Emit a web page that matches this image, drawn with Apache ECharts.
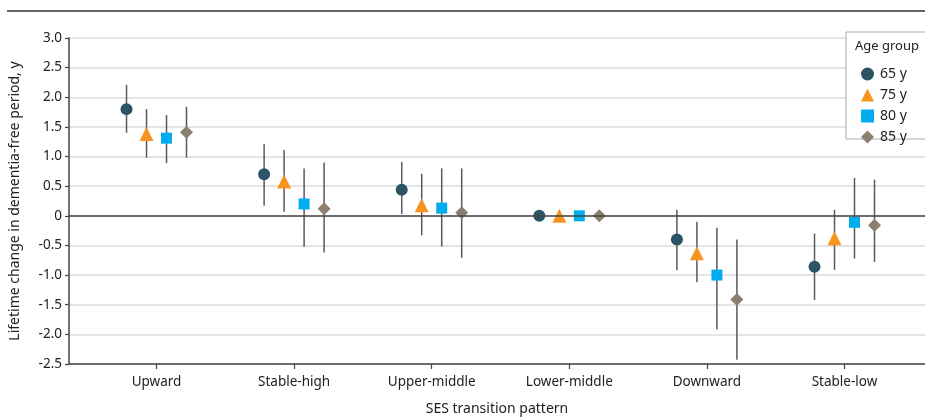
<!DOCTYPE html>
<html>
<head>
<meta charset="utf-8">
<script src="https://cdn.jsdelivr.net/npm/echarts@6/dist/echarts.min.js"></script>
<style>
html,body{margin:0;padding:0;background:#fff;}
#chart{width:925px;height:417px;}
</style>
</head>
<body>
<div id="chart"></div>
<script>
// ---- data ----
const categories = ['Upward','Stable-high','Upper-middle','Lower-middle','Downward','Stable-low'];
const ageGroups = ['65 y','75 y','80 y','85 y'];
const yTicks = [-2.5,-2.0,-1.5,-1.0,-0.5,0,0.5,1.0,1.5,2.0,2.5,3.0];

const age65   = [1.80, 0.70, 0.44, 0, -0.40, -0.86];
const age65Lo = [1.40, 0.17, 0.03, null, -0.92, -1.42];
const age65Hi = [2.21, 1.21, 0.91, null, 0.10, -0.30];

const age75   = [1.38, 0.58, 0.18, 0, -0.63, -0.38];
const age75Lo = [0.98, 0.07, -0.33, null, -1.12, -0.91];
const age75Hi = [1.80, 1.11, 0.71, null, -0.10, 0.10];

const age80   = [1.31, 0.20, 0.13, 0, -1.00, -0.11];
const age80Lo = [0.89, -0.52, -0.52, null, -1.92, -0.72];
const age80Hi = [1.70, 0.80, 0.80, null, -0.20, 0.64];

const age85   = [1.41, 0.12, 0.05, 0, -1.41, -0.16];
const age85Lo = [0.98, -0.62, -0.71, null, -2.43, -0.78];
const age85Hi = [1.84, 0.90, 0.80, null, -0.40, 0.61];

// ---- styling ----
const FONT = 'Noto Sans';
const colors = ['#2b5566', '#f7941d', '#00aeef', '#8b7f70'];
const symbols = ['circle', 'triangle', 'rect', 'diamond'];
const symbolSizes = [12, 14, 11, 13];
const groupOffset = 0.1453;   // spacing of age groups within a category (category units)
const xMin = -0.636, xMax = 5.585;

const values = [age65, age75, age80, age85];
const los = [age65Lo, age75Lo, age80Lo, age85Lo];
const his = [age65Hi, age75Hi, age80Hi, age85Hi];

const series = [];
values.forEach((vals, k) => {
  const off = (k - 1.5) * groupOffset;
  // error bars
  series.push({
    type: 'custom',
    silent: true,
    z: 1,
    data: vals.map((v, i) => [i + off, los[k][i], his[k][i]]).filter(d => d[1] !== null),
    renderItem: function (params, api) {
      const p1 = api.coord([api.value(0), api.value(1)]);
      const p2 = api.coord([api.value(0), api.value(2)]);
      return {
        type: 'line',
        shape: {x1: p1[0], y1: p1[1], x2: p2[0], y2: p2[1]},
        style: {stroke: '#5a5a5a', lineWidth: 1.5}
      };
    }
  });
  series.push({
    name: ageGroups[k],
    type: 'scatter',
    z: 3,
    symbol: symbols[k],
    symbolSize: symbolSizes[k],
    itemStyle: {color: colors[k], opacity: 1},
    data: vals.map((v, i) => [i + off, v]),
    markLine: k === 0 ? {
      silent: true,
      symbol: ['none', 'none'],
      label: {show: false},
      lineStyle: {color: '#444', width: 1.5, type: 'solid'},
      data: [{yAxis: 0}]
    } : undefined
  });
});

const chart = echarts.init(document.getElementById('chart'), null, {renderer: 'canvas'});
chart.setOption({
  animation: false,
  backgroundColor: '#fff',
  textStyle: {fontFamily: FONT},
  grid: {left: 69, right: 0, top: 38, bottom: 53, containLabel: false, outerBoundsMode: 'none'},
  xAxis: {
    type: 'value',
    min: xMin,
    max: xMax,
    name: 'SES transition pattern',
    nameLocation: 'middle',
    nameGap: 38,
    nameTextStyle: {fontFamily: FONT, fontSize: 14, color: '#222'},
    axisLine: {show: true, onZero: false, lineStyle: {color: '#444', width: 1.5}},
    axisTick: {show: true, customValues: [0,1,2,3,4,5], length: 5, lineStyle: {color: '#444', width: 1.2}},
    axisLabel: {
      customValues: [0,1,2,3,4,5],
      formatter: v => categories[Math.round(v)],
      fontFamily: FONT, fontSize: 13.5, color: '#222', margin: 11
    },
    splitLine: {show: false}
  },
  yAxis: {
    type: 'value',
    min: -2.5,
    max: 3.0,
    interval: 0.5,
    name: 'Lifetime change in dementia-free period, y',
    nameLocation: 'middle',
    nameGap: 47,
    nameTextStyle: {fontFamily: FONT, fontSize: 14, color: '#222'},
    axisLine: {show: true, onZero: false, lineStyle: {color: '#444', width: 1.5}},
    axisTick: {show: true, length: 4, lineStyle: {color: '#444', width: 1.2}},
    axisLabel: {
      formatter: v => {
        const t = yTicks.find(x => Math.abs(x - v) < 1e-9);
        const val = t === undefined ? v : t;
        return Math.abs(val) < 1e-9 ? '0' : val.toFixed(1);
      },
      fontFamily: FONT, fontSize: 13.5, color: '#222', margin: 7
    },
    splitLine: {show: true, lineStyle: {color: '#dcdcdc', width: 1.5}}
  },
  legend: {
    orient: 'vertical',
    left: 856,
    top: 62,
    itemWidth: 13,
    itemHeight: 13,
    itemGap: 7,
    z: 10,
    data: ageGroups.map((g, k) => ({name: g, icon: symbols[k]})),
    textStyle: {fontFamily: FONT, fontSize: 14, color: '#222', padding: [0, 0, 0, 1]},
    selectedMode: false
  },
  graphic: [
    {type: 'line', shape: {x1: 7, y1: 11, x2: 925, y2: 11}, style: {stroke: '#333', lineWidth: 1.5}, z: 5},
    {type: 'rect', shape: {x: 846, y: 32, width: 100, height: 107}, style: {fill: '#fff', stroke: '#aaa', lineWidth: 1}, z: 5},
    {type: 'text', left: 855, top: 40, z: 10, style: {text: 'Age group', fontFamily: FONT, fontSize: 13, fill: '#222'}}
  ],
  series: series
});
</script>
</body>
</html>
